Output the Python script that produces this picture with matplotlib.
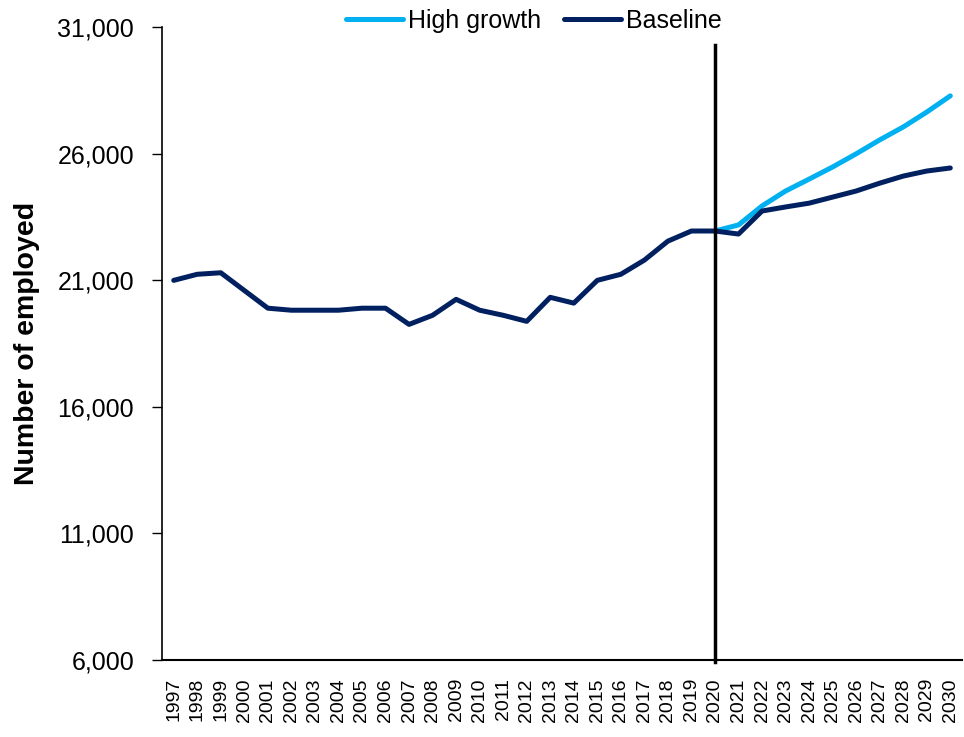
import numpy as np
import matplotlib
matplotlib.use("Agg")
import matplotlib.pyplot as plt

plt.rcParams['font.family'] = ['Liberation Sans', 'DejaVu Sans']

years = list(range(1997, 2031))
baseline = [21000, 21240, 21300, 20600, 19900, 19820, 19820, 19820, 19900, 19900,
            19260, 19620, 20250, 19820, 19620, 19380, 20330, 20100, 21000, 21240,
            21800, 22550, 22950, 22950, 22830, 23740, 23900, 24050, 24290, 24530,
            24840, 25120, 25320, 25440]
high_years = list(range(2020, 2031))
high_growth = [22950, 23190, 23940, 24530, 25000, 25480, 26000, 26550, 27060,
               27650, 28290]
split_year = 2020

fig = plt.figure(figsize=(9.64, 7.37), dpi=100)
ax = fig.add_axes([0.168, 0.1045, 0.83, 0.8585])

xb = np.arange(len(years))
xh = np.array([years.index(y) for y in high_years])

ax.plot(xh, high_growth, color='#00B0F0', lw=3.6, label='High growth',
        solid_capstyle='round', zorder=3)
ax.plot(xb, baseline, color='#002060', lw=3.6, label='Baseline',
        solid_capstyle='round', zorder=4)

# forecast divider
xs = years.index(split_year)
ax.plot([xs, xs], [5920, 30290], color='black', lw=2.5, clip_on=False, zorder=5)

ax.set_xlim(-0.5, len(years) - 0.5)
ax.set_ylim(6000, 31000)
ax.set_yticks(range(6000, 31001, 5000))
ax.set_yticklabels([f'{v:,}' for v in range(6000, 31001, 5000)], fontsize=18)
ax.set_xticks(xb)
ax.set_xticklabels([str(y) for y in years], rotation=90, fontsize=14)
ax.tick_params(axis='x', length=0, pad=13)
ax.tick_params(axis='y', direction='out', length=7, width=1, pad=13)

for s in ['top', 'right']:
    ax.spines[s].set_visible(False)
ax.spines['left'].set_linewidth(1.2)
ax.spines['bottom'].set_linewidth(1.5)

ax.set_ylabel('Number of employed', fontsize=20.5, fontweight='bold')
ax.yaxis.set_label_coords(-0.152, 0.5)

ax.legend(loc='center', bbox_to_anchor=(0.465, 1.01), ncol=2, frameon=False,
          fontsize=18, handlelength=2.3, handletextpad=0.2, columnspacing=0.9)

fig.savefig('out.png', dpi=100)
